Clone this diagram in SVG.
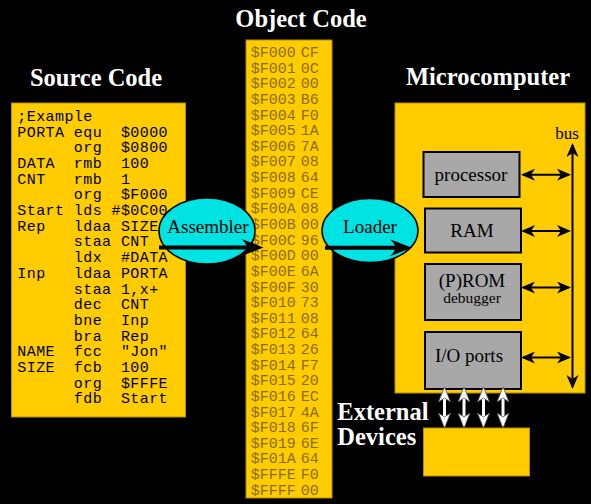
<svg xmlns="http://www.w3.org/2000/svg" width="591" height="504" viewBox="0 0 591 504">
<style>
.title{font-family:"Liberation Sans","Liberation Serif","Times New Roman",serif;font-weight:bold;font-size:24.5px;fill:#ffffff}
.title{font-family:"Liberation Serif","Times New Roman",serif}
.src{font-family:"Liberation Mono","Courier New",monospace;font-size:15px;letter-spacing:0.42px;fill:#000000;white-space:pre}
.obj{font-family:"Liberation Mono","Courier New",monospace;font-size:15px;fill:#8a6d00}
.lbl{font-family:"Liberation Serif","Times New Roman",serif;font-size:19px;fill:#000000;text-anchor:middle}
.panel{fill:#ffcc00;stroke:#b38f00;stroke-width:1}
.box{fill:#a8a8a8;stroke:#000000;stroke-width:2}
.oval{fill:#00e3e3;stroke:#000000;stroke-width:1.5}
.bk{stroke:#000000;stroke-width:2;fill:none;marker-start:url(#ah);marker-end:url(#ah)}
.wh{stroke:#ffffff;stroke-width:3;fill:none;marker-start:url(#wh);marker-end:url(#wh)}
</style>
<defs>
<marker id="ah" viewBox="0 0 14 12" refX="12" refY="6" markerWidth="14" markerHeight="12" markerUnits="userSpaceOnUse" orient="auto-start-reverse">
<path d="M0,0 L14,6 L0,12 L4,6 Z" fill="#000000"/>
</marker>
<marker id="wh" viewBox="0 0 16 13" refX="13" refY="6.5" markerWidth="16" markerHeight="13" markerUnits="userSpaceOnUse" orient="auto-start-reverse">
<path d="M0.5,0.5 L15.5,6.5 L0.5,12.5 L4.5,6.5 Z" fill="#ffffff" stroke="#555555" stroke-width="0.8"/>
</marker>
</defs>
<rect x="0" y="0" width="591" height="504" fill="#000000"/>

<g id="titles">
<text class="title" x="96" y="86" text-anchor="middle">Source Code</text>
<text class="title" x="301" y="27" text-anchor="middle">Object Code</text>
<text class="title" x="488" y="85" text-anchor="middle">Microcomputer</text>
</g>

<g id="source-code">
<rect class="panel" x="11.5" y="103" width="174" height="314"/>
<text class="src" xml:space="preserve"><tspan x="17.3" y="121">;Example</tspan><tspan x="17.3" y="136.7">PORTA equ  $0000</tspan><tspan x="17.3" y="152.4">      org  $0800</tspan><tspan x="17.3" y="168">DATA  rmb  100</tspan><tspan x="17.3" y="183.7">CNT   rmb  1</tspan><tspan x="17.3" y="199.4">      org  $F000</tspan><tspan x="17.3" y="215.1">Start lds #$0C00</tspan><tspan x="17.3" y="230.8">Rep   ldaa SIZE</tspan><tspan x="17.3" y="246.4">      staa CNT</tspan><tspan x="17.3" y="262.1">      ldx  #DATA</tspan><tspan x="17.3" y="277.8">Inp   ldaa PORTA</tspan><tspan x="17.3" y="293.5">      staa 1,x+</tspan><tspan x="17.3" y="309.2">      dec  CNT</tspan><tspan x="17.3" y="324.8">      bne  Inp</tspan><tspan x="17.3" y="340.5">      bra  Rep</tspan><tspan x="17.3" y="356.2">NAME  fcc  "Jon"</tspan><tspan x="17.3" y="371.9">SIZE  fcb  100</tspan><tspan x="17.3" y="387.6">      org  $FFFE</tspan><tspan x="17.3" y="403.3">      fdb  Start</tspan></text>
</g>

<g id="object-code">
<rect class="panel" x="246" y="40" width="86" height="458"/>
<text class="obj"><tspan x="250.7" y="57">$F000</tspan><tspan x="300.7" y="57">CF</tspan><tspan x="250.7" y="72.6">$F001</tspan><tspan x="300.7" y="72.6">0C</tspan><tspan x="250.7" y="88.3">$F002</tspan><tspan x="300.7" y="88.3">00</tspan><tspan x="250.7" y="103.9">$F003</tspan><tspan x="300.7" y="103.9">B6</tspan><tspan x="250.7" y="119.5">$F004</tspan><tspan x="300.7" y="119.5">F0</tspan><tspan x="250.7" y="135.2">$F005</tspan><tspan x="300.7" y="135.2">1A</tspan><tspan x="250.7" y="150.8">$F006</tspan><tspan x="300.7" y="150.8">7A</tspan><tspan x="250.7" y="166.4">$F007</tspan><tspan x="300.7" y="166.4">08</tspan><tspan x="250.7" y="182">$F008</tspan><tspan x="300.7" y="182">64</tspan><tspan x="250.7" y="197.7">$F009</tspan><tspan x="300.7" y="197.7">CE</tspan><tspan x="250.7" y="213.3">$F00A</tspan><tspan x="300.7" y="213.3">08</tspan><tspan x="250.7" y="228.9">$F00B</tspan><tspan x="300.7" y="228.9">00</tspan><tspan x="250.7" y="244.6">$F00C</tspan><tspan x="300.7" y="244.6">96</tspan><tspan x="250.7" y="260.2">$F00D</tspan><tspan x="300.7" y="260.2">00</tspan><tspan x="250.7" y="275.8">$F00E</tspan><tspan x="300.7" y="275.8">6A</tspan><tspan x="250.7" y="291.5">$F00F</tspan><tspan x="300.7" y="291.5">30</tspan><tspan x="250.7" y="307.1">$F010</tspan><tspan x="300.7" y="307.1">73</tspan><tspan x="250.7" y="322.7">$F011</tspan><tspan x="300.7" y="322.7">08</tspan><tspan x="250.7" y="338.3">$F012</tspan><tspan x="300.7" y="338.3">64</tspan><tspan x="250.7" y="354">$F013</tspan><tspan x="300.7" y="354">26</tspan><tspan x="250.7" y="369.6">$F014</tspan><tspan x="300.7" y="369.6">F7</tspan><tspan x="250.7" y="385.2">$F015</tspan><tspan x="300.7" y="385.2">20</tspan><tspan x="250.7" y="400.9">$F016</tspan><tspan x="300.7" y="400.9">EC</tspan><tspan x="250.7" y="416.5">$F017</tspan><tspan x="300.7" y="416.5">4A</tspan><tspan x="250.7" y="432.1">$F018</tspan><tspan x="300.7" y="432.1">6F</tspan><tspan x="250.7" y="447.8">$F019</tspan><tspan x="300.7" y="447.8">6E</tspan><tspan x="250.7" y="463.4">$F01A</tspan><tspan x="300.7" y="463.4">64</tspan><tspan x="250.7" y="479">$FFFE</tspan><tspan x="300.7" y="479">F0</tspan><tspan x="250.7" y="494.6">$FFFF</tspan><tspan x="300.7" y="494.6">00</tspan></text>
</g>

<g id="microcomputer">
<rect class="panel" x="395" y="103" width="190" height="290"/>
<text x="567" y="138.5" font-family="Liberation Serif, Times New Roman, serif" font-size="17" text-anchor="middle">bus</text>
</g>

<g id="processor">
<rect class="box" x="423.5" y="152" width="96" height="45"/>
<text class="lbl" x="471" y="180.5">processor</text>
</g>
<g id="ram">
<rect class="box" x="425" y="208.5" width="96" height="44"/>
<text class="lbl" x="472" y="237">RAM</text>
</g>
<g id="prom">
<rect class="box" x="425" y="264" width="96" height="56"/>
<text class="lbl"><tspan x="472" y="286.5">(P)ROM</tspan><tspan x="472" y="303" style="font-size:15.5px">debugger</tspan></text>
</g>
<g id="io-ports">
<rect class="box" x="425" y="332" width="96" height="57"/>
<text class="lbl" x="469" y="362">I/O ports</text>
</g>

<g id="assembler">
<ellipse class="oval" cx="207" cy="231" rx="48" ry="33"/>
<text class="lbl" x="208" y="233">Assembler</text>
</g>
<g id="loader">
<ellipse class="oval" cx="370" cy="230.5" rx="48" ry="32"/>
<text class="lbl" x="370" y="233">Loader</text>
</g>

<g id="external-devices">
<rect x="423.5" y="428" width="106" height="48" fill="#ffcc00" stroke="#b38f00" stroke-width="1"/>
<text class="title"><tspan x="337.3" y="419.5">External</tspan><tspan x="337.3" y="444.5">Devices</tspan></text>
</g>

<g id="connectors">
<line x1="159" y1="247.5" x2="249" y2="247.5" stroke="#000000" stroke-width="4"/>
<path d="M263.5,247.5 L241.5,239 Q247,244 246.5,247.5 Q247,251 241.5,256 Z" fill="#000000"/>
<line x1="325" y1="247.7" x2="398" y2="247.7" stroke="#000000" stroke-width="4"/>
<path d="M412,247.7 L390,239.2 Q395.5,244.2 395,247.7 Q395.5,251.2 390,256.2 Z" fill="#000000"/>
<line class="bk" x1="572.5" y1="387" x2="572.5" y2="145"/>
<line class="bk" x1="523" y1="174.7" x2="569" y2="174.7"/>
<line class="bk" x1="523" y1="231" x2="569" y2="231"/>
<line class="bk" x1="523" y1="287.5" x2="569" y2="287.5"/>
<line class="bk" x1="523" y1="357.5" x2="569" y2="357.5"/>
<line class="wh" x1="444.5" y1="389.5" x2="444.5" y2="425.5"/>
<line class="wh" x1="464" y1="389.5" x2="464" y2="425.5"/>
<line class="wh" x1="483.5" y1="389.5" x2="483.5" y2="425.5"/>
<line class="wh" x1="503" y1="389.5" x2="503" y2="425.5"/>
</g>
</svg>
